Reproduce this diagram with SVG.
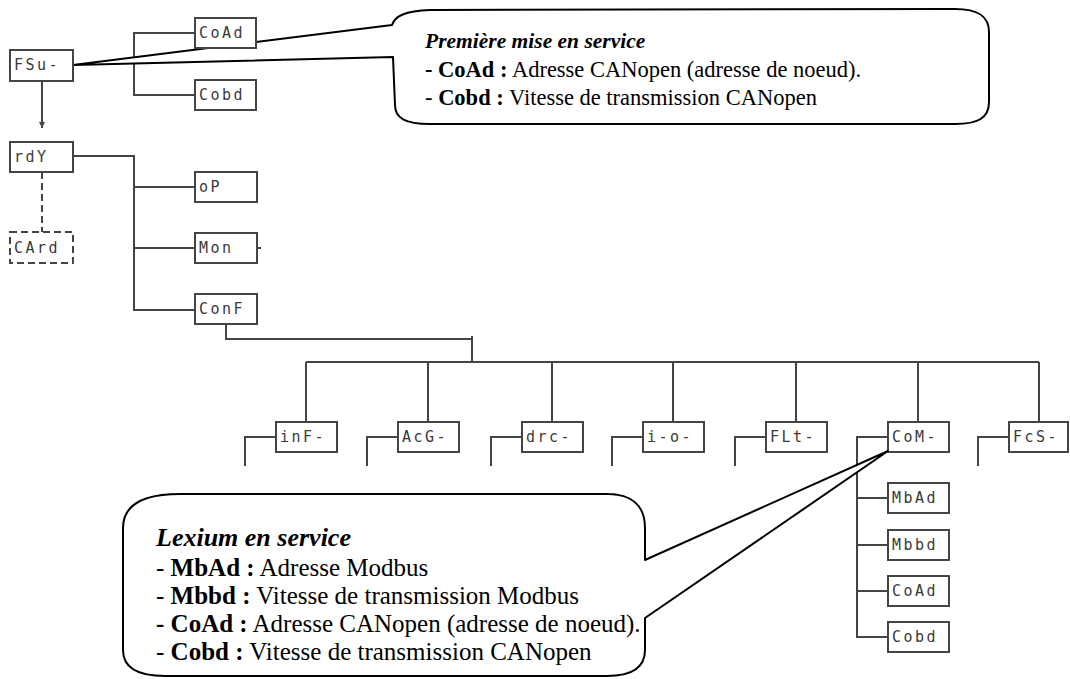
<svg xmlns="http://www.w3.org/2000/svg" width="1070" height="679" viewBox="0 0 1070 679">
  <defs>
    <style>
      .box { fill: #fff; stroke: #444; stroke-width: 2; }
      .dbox { fill: #fff; stroke: #444; stroke-width: 2; stroke-dasharray: 7 4; }
      .ln { fill: none; stroke: #444; stroke-width: 2; }
      .dln { fill: none; stroke: #444; stroke-width: 2; stroke-dasharray: 7 4; }
      .seg { font-family: "DejaVu Sans Mono", "Liberation Mono", monospace; font-size: 15px; fill: #3a3a3a; letter-spacing: 2.5px; }
      .callout { fill: #fff; stroke: #000; stroke-width: 2; stroke-linejoin: round; }
      .txt { font-family: "Liberation Serif", "Times New Roman", serif; fill: #000; }
      .ttl { font-style: italic; font-weight: bold; }
      .b { font-weight: bold; }
    </style>
    <marker id="arrow" viewBox="0 0 10 10" refX="10" refY="5" markerWidth="6" markerHeight="6" orient="auto" markerUnits="userSpaceOnUse">
      <path d="M0,0 L10,5 L0,10 z" fill="#444"/>
    </marker>
  </defs>

  <rect width="1070" height="679" fill="#fff"/>

  <!-- tree connectors -->
  <g id="connectors">
    <!-- FSu- to its two parameters -->
    <path class="ln" d="M195,33 H134 V95 H195"/>
    <!-- FSu- down to rdY -->
    <path class="ln" d="M42,81 V128" marker-end="url(#arrow)"/>
    <!-- rdY to CArd (dashed) -->
    <path class="dln" d="M42,172 V232"/>
    <!-- rdY to oP / Mon / ConF -->
    <path class="ln" d="M73,156 H134 V310 H195 M134,187 H195 M134,248 H195"/>
    <path class="ln" d="M257,248 H261"/>
    <!-- ConF down to the menu bus -->
    <path class="ln" d="M226,324 V339 H472 M472,336 V362"/>
    <path class="ln" d="M306,362 H1039 M306,362 V422 M428,362 V422 M552,362 V422 M673,362 V422 M796,362 V422 M918,362 V422 M1039,362 V422"/>
    <!-- submenu stubs -->
    <path class="ln" d="M276,437 H245 V466 M398,437 H367 V466 M522,437 H491 V466 M643,437 H612 V466 M766,437 H735 V466 M1009,437 H978 V466"/>
    <!-- CoM- submenu -->
    <path class="ln" d="M888,437 H857 V637 H888 M857,498 H888 M857,545 H888 M857,591 H888"/>
  </g>

  <!-- first start-up callout -->
  <g id="callout-fsu">
    <path class="callout" d="M73,65 L392,25 C395,16 405,11 430,10 L955,9 C978,9 989,16 989,32 L989,102 C989,118 978,124 955,124 L430,124 C405,124 395,118 395,105 L393,57 Z"/>
    <text class="txt ttl" x="425" y="48" font-size="21.5">Première mise en service</text>
    <text class="txt" x="425" y="77" font-size="22.5"><tspan class="b">- CoAd :</tspan> Adresse CANopen (adresse de noeud).</text>
    <text class="txt" x="425" y="105" font-size="22.5">- <tspan class="b">Cobd :</tspan> Vitesse de transmission CANopen</text>
  </g>

  <!-- nodes -->
  <g id="n-fsu"><rect class="box" x="10" y="50" width="63" height="31"/><text class="seg" x="14" y="70">FSu-</text></g>
  <g id="n-coad1"><rect class="box" x="195" y="18" width="61" height="30"/><text class="seg" x="199" y="38">CoAd</text></g>
  <g id="n-cobd1"><rect class="box" x="195" y="80" width="61" height="30"/><text class="seg" x="199" y="100">Cobd</text></g>
  <g id="n-rdy"><rect class="box" x="10" y="142" width="63" height="30"/><text class="seg" x="14" y="162">rdY</text></g>
  <g id="n-card"><rect class="dbox" x="10" y="232" width="63" height="31"/><text class="seg" x="14" y="253">CArd</text></g>
  <g id="n-op"><rect class="box" x="195" y="172" width="62" height="30"/><text class="seg" x="199" y="192">oP</text></g>
  <g id="n-mon"><rect class="box" x="195" y="233" width="62" height="30"/><text class="seg" x="199" y="253">Mon</text></g>
  <g id="n-conf"><rect class="box" x="195" y="294" width="62" height="30"/><text class="seg" x="199" y="314">ConF</text></g>

  <g id="n-inf"><rect class="box" x="276" y="422" width="61" height="30"/><text class="seg" x="280" y="442">inF-</text></g>
  <g id="n-acg"><rect class="box" x="398" y="422" width="61" height="30"/><text class="seg" x="402" y="442">AcG-</text></g>
  <g id="n-drc"><rect class="box" x="522" y="422" width="61" height="30"/><text class="seg" x="526" y="442">drc-</text></g>
  <g id="n-io"><rect class="box" x="643" y="422" width="61" height="30"/><text class="seg" x="647" y="442">i-o-</text></g>
  <g id="n-flt"><rect class="box" x="766" y="422" width="61" height="30"/><text class="seg" x="770" y="442">FLt-</text></g>
  <g id="n-com"><rect class="box" x="888" y="422" width="61" height="30"/><text class="seg" x="892" y="442">CoM-</text></g>
  <g id="n-fcs"><rect class="box" x="1009" y="422" width="59" height="30"/><text class="seg" x="1013" y="442">FcS-</text></g>

  <g id="n-mbad"><rect class="box" x="888" y="483" width="61" height="30"/><text class="seg" x="892" y="503">MbAd</text></g>
  <g id="n-mbbd"><rect class="box" x="888" y="530" width="61" height="30"/><text class="seg" x="892" y="550">Mbbd</text></g>
  <g id="n-coad2"><rect class="box" x="888" y="576" width="61" height="30"/><text class="seg" x="892" y="596">CoAd</text></g>
  <g id="n-cobd2"><rect class="box" x="888" y="622" width="61" height="30"/><text class="seg" x="892" y="642">Cobd</text></g>

  <!-- in-service callout -->
  <g id="callout-com">
    <path class="callout" d="M888,451 L645,618 L645,650 C645,668 632,676 607,676 L165,676 C138,676 123,668 123,650 L123,528 C123,506 142,494 180,494 L607,494 C632,494 645,506 645,528 L645,560 Z"/>
    <text class="txt ttl" x="156" y="546" font-size="26">Lexium en service</text>
    <text class="txt" x="156" y="576" font-size="25">- <tspan class="b">MbAd :</tspan> Adresse Modbus</text>
    <text class="txt" x="156" y="604" font-size="25">- <tspan class="b">Mbbd :</tspan> Vitesse de transmission Modbus</text>
    <text class="txt" x="156" y="632" font-size="25"><tspan class="b">- CoAd :</tspan> Adresse CANopen (adresse de noeud).</text>
    <text class="txt" x="156" y="660" font-size="25">- <tspan class="b">Cobd :</tspan> Vitesse de transmission CANopen</text>
  </g>
</svg>
